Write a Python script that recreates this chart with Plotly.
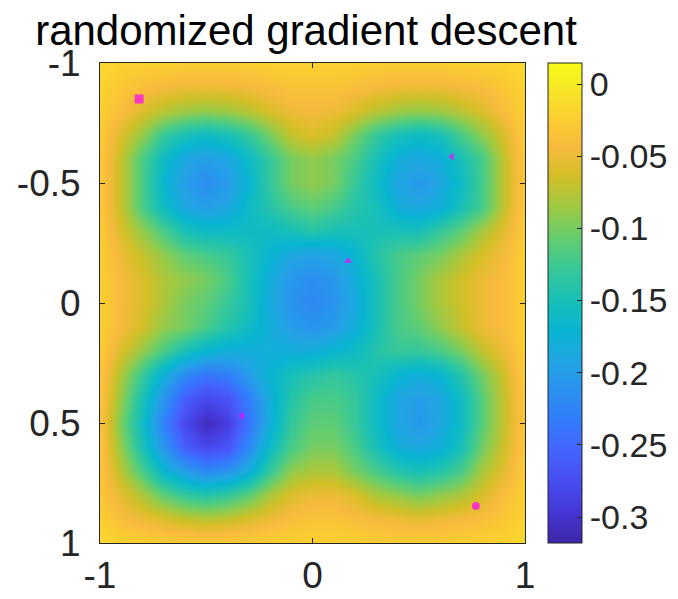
import plotly.graph_objects as go

# grid coordinates
x_vals = [-1.0, -0.9, -0.8, -0.7, -0.6, -0.5, -0.4, -0.3, -0.2, -0.1, 0.0,
          0.1, 0.2, 0.3, 0.4, 0.5, 0.6, 0.7, 0.8, 0.9, 1.0]
y_vals = [-1.0, -0.9, -0.8, -0.7, -0.6, -0.5, -0.4, -0.3, -0.2, -0.1, 0.0,
          0.1, 0.2, 0.3, 0.4, 0.5, 0.6, 0.7, 0.8, 0.9, 1.0]

# objective values (rows follow y_vals, columns x_vals)
z_vals = [
    [-0.015, -0.02, -0.022, -0.022, -0.025, -0.025, -0.025, -0.025, -0.022, -0.022, -0.022, -0.022, -0.022, -0.025, -0.025, -0.025, -0.025, -0.022, -0.022, -0.02, -0.015],
    [-0.02, -0.03, -0.04, -0.045, -0.05, -0.05, -0.05, -0.045, -0.04, -0.035, -0.035, -0.035, -0.04, -0.045, -0.05, -0.05, -0.05, -0.045, -0.04, -0.03, -0.02],
    [-0.022, -0.04, -0.06, -0.075, -0.085, -0.09, -0.085, -0.075, -0.06, -0.05, -0.045, -0.05, -0.06, -0.075, -0.085, -0.09, -0.085, -0.075, -0.06, -0.04, -0.022],
    [-0.025, -0.06, -0.09, -0.13, -0.15, -0.16, -0.15, -0.13, -0.1, -0.07, -0.06, -0.07, -0.1, -0.13, -0.15, -0.16, -0.15, -0.12, -0.09, -0.06, -0.025],
    [-0.028, -0.07, -0.12, -0.16, -0.19, -0.2, -0.19, -0.16, -0.13, -0.1, -0.09, -0.1, -0.12, -0.15, -0.18, -0.19, -0.18, -0.15, -0.12, -0.07, -0.028],
    [-0.028, -0.07, -0.12, -0.17, -0.2, -0.215, -0.2, -0.17, -0.13, -0.1, -0.09, -0.1, -0.13, -0.16, -0.19, -0.205, -0.19, -0.16, -0.12, -0.07, -0.028],
    [-0.028, -0.07, -0.12, -0.16, -0.19, -0.2, -0.19, -0.16, -0.14, -0.12, -0.11, -0.12, -0.14, -0.15, -0.18, -0.19, -0.18, -0.15, -0.12, -0.07, -0.028],
    [-0.025, -0.06, -0.09, -0.12, -0.15, -0.16, -0.16, -0.16, -0.16, -0.15, -0.14, -0.15, -0.15, -0.15, -0.15, -0.15, -0.13, -0.11, -0.08, -0.055, -0.025],
    [-0.022, -0.05, -0.07, -0.09, -0.11, -0.12, -0.13, -0.15, -0.17, -0.19, -0.195, -0.19, -0.17, -0.14, -0.12, -0.11, -0.1, -0.08, -0.06, -0.045, -0.022],
    [-0.022, -0.045, -0.06, -0.08, -0.09, -0.1, -0.12, -0.15, -0.18, -0.205, -0.215, -0.205, -0.18, -0.15, -0.12, -0.1, -0.08, -0.065, -0.05, -0.04, -0.022],
    [-0.022, -0.045, -0.06, -0.08, -0.1, -0.11, -0.13, -0.15, -0.185, -0.21, -0.22, -0.21, -0.185, -0.15, -0.12, -0.1, -0.08, -0.065, -0.05, -0.04, -0.022],
    [-0.022, -0.045, -0.065, -0.09, -0.1, -0.12, -0.14, -0.16, -0.18, -0.2, -0.21, -0.2, -0.18, -0.15, -0.12, -0.11, -0.09, -0.07, -0.05, -0.04, -0.022],
    [-0.025, -0.06, -0.09, -0.12, -0.15, -0.17, -0.18, -0.18, -0.18, -0.18, -0.18, -0.17, -0.16, -0.14, -0.13, -0.13, -0.12, -0.1, -0.07, -0.05, -0.022],
    [-0.03, -0.08, -0.13, -0.18, -0.22, -0.24, -0.23, -0.2, -0.17, -0.15, -0.14, -0.13, -0.14, -0.15, -0.17, -0.18, -0.17, -0.14, -0.1, -0.065, -0.025],
    [-0.032, -0.09, -0.15, -0.21, -0.26, -0.28, -0.27, -0.23, -0.18, -0.14, -0.12, -0.12, -0.13, -0.16, -0.19, -0.2, -0.19, -0.16, -0.11, -0.07, -0.028],
    [-0.032, -0.1, -0.16, -0.23, -0.28, -0.31, -0.29, -0.24, -0.18, -0.13, -0.11, -0.11, -0.13, -0.16, -0.19, -0.205, -0.19, -0.16, -0.11, -0.07, -0.028],
    [-0.032, -0.09, -0.15, -0.21, -0.26, -0.28, -0.27, -0.22, -0.16, -0.12, -0.1, -0.1, -0.12, -0.15, -0.18, -0.19, -0.18, -0.15, -0.1, -0.065, -0.028],
    [-0.03, -0.075, -0.12, -0.17, -0.2, -0.22, -0.21, -0.18, -0.13, -0.09, -0.08, -0.08, -0.1, -0.12, -0.14, -0.15, -0.14, -0.12, -0.08, -0.055, -0.025],
    [-0.028, -0.055, -0.08, -0.11, -0.13, -0.14, -0.13, -0.11, -0.08, -0.06, -0.05, -0.05, -0.06, -0.08, -0.09, -0.1, -0.09, -0.08, -0.06, -0.04, -0.022],
    [-0.022, -0.04, -0.05, -0.06, -0.07, -0.075, -0.07, -0.06, -0.05, -0.04, -0.035, -0.035, -0.04, -0.045, -0.05, -0.055, -0.05, -0.045, -0.04, -0.03, -0.02],
    [-0.015, -0.02, -0.022, -0.025, -0.025, -0.025, -0.025, -0.025, -0.022, -0.022, -0.022, -0.022, -0.022, -0.025, -0.025, -0.025, -0.025, -0.022, -0.02, -0.02, -0.015],
]

# final points of the randomized gradient descent runs
pts_x = [-0.816, 0.656, 0.167, -0.332, 0.769]
pts_y = [-0.85, -0.61, -0.175, 0.47, 0.846]

x_ticks = [-1, 0, 1]
x_ticklabels = ["-1", "0", "1"]
y_ticks = [-1, -0.5, 0, 0.5, 1]
y_ticklabels = ["-1", "-0.5", "0", "0.5", "1"]
cb_ticks = [-0.3, -0.25, -0.2, -0.15, -0.1, -0.05, 0]
cb_ticklabels = ["-0.3", "-0.25", "-0.2", "-0.15", "-0.1", "-0.05", "0"]
z_min, z_max = -0.318, 0.0146

parula_rgb = [
    (0.2422, 0.1504, 0.6603), (0.2706, 0.2147, 0.8364), (0.2813, 0.3006, 0.9414),
    (0.2699, 0.3892, 0.9906), (0.1963, 0.4847, 0.9892), (0.1687, 0.5703, 0.9359),
    (0.1248, 0.6459, 0.8883), (0.0297, 0.7082, 0.8163), (0.0964, 0.7500, 0.7120),
    (0.2161, 0.7843, 0.5923), (0.3909, 0.8029, 0.4354), (0.6174, 0.7876, 0.2612),
    (0.8203, 0.7498, 0.1535), (0.9728, 0.7298, 0.2394), (0.9892, 0.8136, 0.1885),
    (0.9597, 0.9135, 0.1423), (0.9769, 0.9839, 0.0805),
]
parula_pos = [0, 4, 8, 12, 16, 20, 24, 28, 32, 36, 40, 44, 48, 52, 56, 60, 63]
colorscale = [[p / 63, "rgb(%d,%d,%d)" % tuple(round(c * 255) for c in rgb)]
              for p, rgb in zip(parula_pos, parula_rgb)]

axis_color = "#262626"
font_family = "Liberation Sans, Arial, sans-serif"

fig = go.Figure()
fig.add_trace(go.Heatmap(
    x=x_vals, y=y_vals, z=z_vals, zmin=z_min, zmax=z_max,
    colorscale=colorscale, zsmooth="best",
    colorbar=dict(
        x=(548 - 100) / 425, xanchor="left", xpad=0, ypad=0,
        y=0.5, yanchor="middle", len=1.0, lenmode="fraction",
        thickness=34, thicknessmode="pixels",
        outlinewidth=1, outlinecolor=axis_color,
        ticks="inside", ticklen=5, tickcolor=axis_color,
        tickvals=cb_ticks, ticktext=cb_ticklabels, tickprefix="\u00a0",
        tickfont=dict(family=font_family, size=34, color=axis_color),
    ),
    showscale=True,
))
fig.add_trace(go.Scatter(
    x=pts_x, y=pts_y, mode="markers",
    marker=dict(color="#ff00ff", size=[9, 7, 7, 7, 8],
                symbol=["square", "triangle-left", "triangle-up", "triangle-left", "circle"],
                line=dict(width=0)),
    showlegend=False,
))

axis_common = dict(
    showline=True, linecolor=axis_color, linewidth=1, mirror="ticks",
    ticks="inside", ticklen=5, tickcolor=axis_color,
    showgrid=False, zeroline=False, automargin=False,
    tickfont=dict(family=font_family, size=37, color=axis_color),
)
fig.update_xaxes(range=[-1, 1], tickvals=x_ticks, ticktext=x_ticklabels,
                 ticklabelstandoff=0, **axis_common)
fig.update_yaxes(range=[1, -1], tickvals=y_ticks, ticktext=y_ticklabels,
                 ticklabelstandoff=11, **axis_common)

fig.update_layout(
    width=678, height=599, autosize=False,
    margin=dict(l=100, r=153, t=63, b=56, pad=0, autoexpand=False),
    paper_bgcolor="white", plot_bgcolor="white",
    title=dict(text="randomized gradient descent", x=306 / 678, xref="container",
               xanchor="center", y=1 - 30 / 599, yref="container", yanchor="middle",
               font=dict(family=font_family, size=42, color="black")),
    showlegend=False,
)

fig.write_html("out.html")
